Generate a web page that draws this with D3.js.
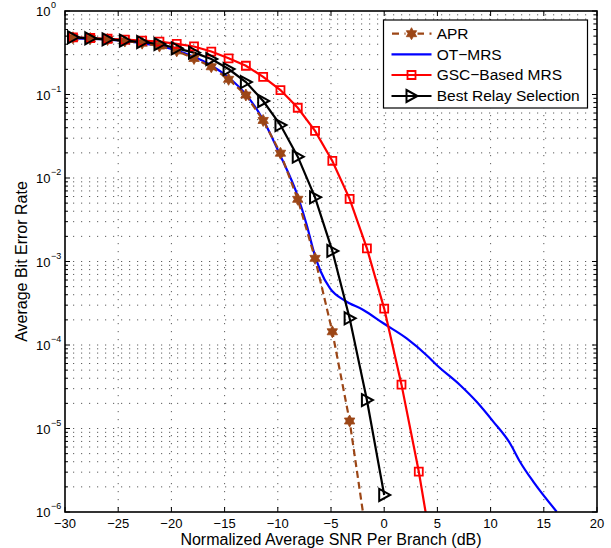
<!DOCTYPE html>
<html><head><meta charset="utf-8">
<script src="https://cdn.jsdelivr.net/npm/d3@7"></script>
<style>
html,body{margin:0;padding:0;background:#fff;}
svg{display:block;font-family:"Liberation Sans",Arial,Helvetica,sans-serif;}
</style></head>
<body><svg id="c" width="611" height="548"></svg>
<script>
// ---- data ----
const snrGrid = [-29.25,-27.625,-26,-24.375,-22.75,-21.125,-19.5,-17.875,-16.25,-14.625,-13,-11.375,-9.75,-8.125,-6.5,-4.875,-3.25,-1.625,0,1.625,3.25,4.875];
const aprBer = [0.478,0.468,0.455,0.437,0.412,0.380,0.333,0.270,0.215,0.152,0.0986,0.0489,0.0198,5.56e-3,1.09e-3,1.44e-4,1.23e-5,4.7e-7];
const gscBer = [0.484,0.475,0.465,0.454,0.443,0.429,0.403,0.376,0.327,0.271,0.221,0.163,0.113,0.0694,0.0366,0.0160,5.63e-3,1.44e-3,2.73e-4,3.35e-5,3.05e-6,1.8e-7];
const bestBer = [0.484,0.471,0.458,0.441,0.425,0.402,0.357,0.317,0.266,0.202,0.141,0.0836,0.0431,0.0180,5.87e-3,1.34e-3,2.09e-4,2.19e-5,1.60e-6];
const otSnr = [-29.28,-27.65,-26.08,-24.36,-22.79,-21.14,-19.50,-17.94,-16.33,-14.68,-13.02,-11.42,-9.79,-8.13,-7.28,-6.66,-6.03,-5.09,-3.68,-1.96,-0.08,2.11,4.14,4.93,7.12,8.69,10.25,11.82,12.76,14.01,16.21];
const otBer = [0.471,0.465,0.452,0.435,0.411,0.381,0.336,0.285,0.226,0.162,0.101,0.0509,0.0189,6.09e-3,2.74e-3,1.37e-3,7.91e-4,4.78e-4,3.39e-4,2.63e-4,1.82e-4,1.20e-4,7.24e-5,5.76e-5,3.32e-5,2.09e-5,1.21e-5,6.65e-6,4.0e-6,2.31e-6,1.01e-6];
const xTicks = [-30,-25,-20,-15,-10,-5,0,5,10,15,20];
const yExps = [0,-1,-2,-3,-4,-5,-6];
const legendNames = ["APR","OT\u2212MRS","GSC\u2212Based MRS","Best Relay Selection"];
const xLabel = "Normalized Average SNR Per Branch (dB)";
const yLabel = "Average Bit Error Rate";

// ---- layout ----
const L=65, R=597, T=11, B=512;
const svg=d3.select("#c");
const x=d3.scaleLinear().domain([-30,20]).range([L,R]);
const y=d3.scaleLog().domain([1e-6,1]).range([B,T]);
const brown="#9c4616", blue="#0000ff", red="#ff0000", black="#000";

svg.append("defs").append("clipPath").attr("id","clip")
  .append("rect").attr("x",L).attr("y",T).attr("width",R-L).attr("height",B-T);

// grid
const grid=svg.append("g").attr("stroke","#333").attr("stroke-width",0.8).attr("stroke-dasharray","1.2,6.8");
xTicks.slice(1,-1).forEach(v=>grid.append("line").attr("x1",x(v)).attr("x2",x(v)).attr("y1",T).attr("y2",B));
const yMinor=[];
for(let e=-6;e<0;e++){for(let m=1;m<10;m++){const v=m*Math.pow(10,e); if(v>1e-6) yMinor.push(v);}}
yMinor.forEach(v=>grid.append("line").attr("x1",L).attr("x2",R).attr("y1",y(v)).attr("y2",y(v)));

// ticks
const tk=svg.append("g").attr("stroke","#000").attr("stroke-width",1);
xTicks.forEach(v=>{
  tk.append("line").attr("x1",x(v)).attr("x2",x(v)).attr("y1",B).attr("y2",B-5);
  tk.append("line").attr("x1",x(v)).attr("x2",x(v)).attr("y1",T).attr("y2",T+5);
});
yExps.forEach(e=>{const v=Math.pow(10,e);
  tk.append("line").attr("x1",L).attr("x2",L+5).attr("y1",y(v)).attr("y2",y(v));
  tk.append("line").attr("x1",R).attr("x2",R-5).attr("y1",y(v)).attr("y2",y(v));
});
yMinor.filter(v=>Math.abs(Math.log10(v)-Math.round(Math.log10(v)))>1e-9).forEach(v=>{
  tk.append("line").attr("x1",L).attr("x2",L+3).attr("y1",y(v)).attr("y2",y(v));
  tk.append("line").attr("x1",R).attr("x2",R-3).attr("y1",y(v)).attr("y2",y(v));
});

// tick labels
const fmt=v=>(v<0?"\u2212":"")+Math.abs(v);
svg.append("g").selectAll("text").data(xTicks).join("text")
  .attr("x",d=>x(d)).attr("y",528).attr("text-anchor","middle").attr("font-size",13).text(fmt);
const yl=svg.append("g");
yExps.forEach(e=>{
  const yy=y(Math.pow(10,e));
  yl.append("text").attr("x",50.5).attr("y",yy+5).attr("text-anchor","end").attr("font-size",13).text("10");
  yl.append("text").attr("x",51).attr("y",yy-3).attr("text-anchor","start").attr("font-size",9).text(fmt(e));
});

// axis titles
svg.append("text").attr("x",(L+R)/2).attr("y",545).attr("text-anchor","middle").attr("font-size",16).text(xLabel);
svg.append("text").attr("transform",`translate(27,${(T+B)/2}) rotate(-90)`).attr("text-anchor","middle").attr("font-size",16).text(yLabel);

// markers
function hexagram(r){
  const pts=[];
  for(let i=0;i<12;i++){const a=-Math.PI/2+i*Math.PI/6; const rr=i%2===0?r:r*0.577;
    pts.push([rr*Math.cos(a),rr*Math.sin(a)]);}
  return "M"+pts.map(p=>p.join(",")).join("L")+"Z";
}
const triPath="M-5,-6L6,0L-5,6Z";
const sqPath="M-4,-4H4V4H-4Z";

const plot=svg.append("g").attr("clip-path","url(#clip)");
const lineGen=d3.line().x(d=>x(d[0])).y(d=>y(d[1]));
const aprData=aprBer.map((v,i)=>[snrGrid[i],v]);
const gscData=gscBer.map((v,i)=>[snrGrid[i],v]);
const bestData=bestBer.map((v,i)=>[snrGrid[i],v]);
const otData=otBer.map((v,i)=>[otSnr[i],v]);

plot.append("path").attr("d",lineGen.curve(d3.curveMonotoneX)(otData)).attr("fill","none").attr("stroke",blue).attr("stroke-width",2.2);
lineGen.curve(d3.curveLinear);
plot.append("path").attr("d",lineGen(aprData)).attr("fill","none").attr("stroke",brown).attr("stroke-width",2.2).attr("stroke-dasharray","7,4");
plot.append("path").attr("d",lineGen(gscData)).attr("fill","none").attr("stroke",red).attr("stroke-width",2.2);
plot.append("path").attr("d",lineGen(bestData)).attr("fill","none").attr("stroke",black).attr("stroke-width",2.2);

plot.append("g").selectAll("path").data(aprData).join("path")
  .attr("transform",d=>`translate(${x(d[0])},${y(d[1])})`).attr("d",hexagram(6)).attr("fill",brown).attr("stroke",brown).attr("stroke-width",0.8);
plot.append("g").selectAll("path").data(gscData).join("path")
  .attr("transform",d=>`translate(${x(d[0])},${y(d[1])})`).attr("d",sqPath).attr("fill","none").attr("stroke",red).attr("stroke-width",1.8);
plot.append("g").selectAll("path").data(bestData).join("path")
  .attr("transform",d=>`translate(${x(d[0])},${y(d[1])})`).attr("d",triPath).attr("fill","none").attr("stroke",black).attr("stroke-width",2);

// axes box
svg.append("rect").attr("x",L).attr("y",T).attr("width",R-L).attr("height",B-T).attr("fill","none").attr("stroke","#000").attr("stroke-width",1.6);

// legend
const lg=svg.append("g");
lg.append("rect").attr("x",383.5).attr("y",20).attr("width",204).attr("height",88).attr("fill","#fff").attr("stroke","#000").attr("stroke-width",1.2);
const ly=[33.7,54.3,75,96];
const styles=[{c:brown,dash:"7,4",m:"hex"},{c:blue,dash:null,m:null},{c:red,dash:null,m:"sq"},{c:black,dash:null,m:"tri"}];
legendNames.forEach((n,i)=>{
  const s=styles[i];
  const l=lg.append("line").attr("x1",391.5).attr("x2",431.5).attr("y1",ly[i]).attr("y2",ly[i]).attr("stroke",s.c).attr("stroke-width",2.2);
  if(s.dash) l.attr("stroke-dasharray","7,5.5").attr("stroke-dashoffset",-0.5);
  const g=lg.append("g").attr("transform",`translate(411.5,${ly[i]})`);
  if(s.m==="hex"){g.append("rect").attr("x",-6).attr("y",-6).attr("width",12).attr("height",12).attr("fill","#fff"); g.append("path").attr("d",hexagram(6)).attr("fill",brown).attr("stroke",brown).attr("stroke-width",0.8);}
  if(s.m==="sq") g.append("path").attr("d",sqPath).attr("fill","none").attr("stroke",red).attr("stroke-width",1.8);
  if(s.m==="tri") g.append("path").attr("d",triPath).attr("fill","none").attr("stroke",black).attr("stroke-width",2);
  lg.append("text").attr("x",436.7).attr("y",ly[i]+5.3).attr("font-size",15.5).text(n);
});
</script></body></html>
